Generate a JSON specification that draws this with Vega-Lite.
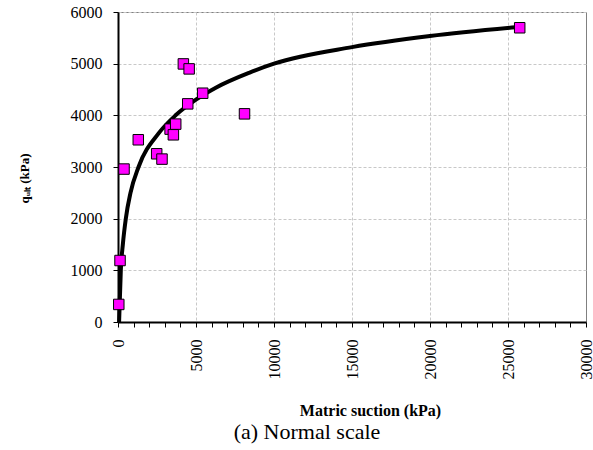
{
  "$schema": "https://vega.github.io/schema/vega-lite/v6.json",
  "width": 468,
  "height": 310,
  "autosize": {"type": "none"},
  "padding": {"left": 118, "top": 12, "right": 7, "bottom": 128},
  "background": "white",
  "config": {
    "view": {"stroke": "#808080", "strokeWidth": 1},
    "font": "Liberation Serif"
  },
  "title": {
    "text": "(a) Normal scale",
    "orient": "bottom",
    "anchor": "middle",
    "dx": -45,
    "offset": 4,
    "font": "Liberation Serif",
    "fontSize": 22,
    "fontWeight": "normal",
    "color": "black"
  },
  "datasets": {
    "curve": [
      {"suction": 70, "qult": 0},
      {"suction": 180, "qult": 1000},
      {"suction": 310, "qult": 1500},
      {"suction": 500, "qult": 2000},
      {"suction": 800, "qult": 2500},
      {"suction": 1316, "qult": 3000},
      {"suction": 2600, "qult": 3650},
      {"suction": 3690, "qult": 4000},
      {"suction": 5020, "qult": 4308},
      {"suction": 6300, "qult": 4540},
      {"suction": 8440, "qult": 4828},
      {"suction": 10000, "qult": 5000},
      {"suction": 15000, "qult": 5320},
      {"suction": 20000, "qult": 5535},
      {"suction": 25500, "qult": 5705}
    ],
    "points": [
      {"suction": 50, "qult": 340},
      {"suction": 130, "qult": 1190},
      {"suction": 385, "qult": 2960},
      {"suction": 1300, "qult": 3527},
      {"suction": 2480, "qult": 3256},
      {"suction": 2820, "qult": 3153},
      {"suction": 3340, "qult": 3733},
      {"suction": 3700, "qult": 3830},
      {"suction": 3550, "qult": 3623},
      {"suction": 4190, "qult": 4995},
      {"suction": 4560, "qult": 4899},
      {"suction": 4470, "qult": 4222},
      {"suction": 5430, "qult": 4428},
      {"suction": 8110, "qult": 4029},
      {"suction": 25750, "qult": 5695}
    ]
  },
  "layer": [
    {
      "data": {"name": "curve"},
      "mark": {"type": "line", "color": "black", "strokeWidth": 4, "interpolate": "monotone"},
      "encoding": {
        "x": {
          "field": "suction",
          "type": "quantitative",
          "scale": {"domain": [0, 30000], "nice": false, "zero": true},
          "axis": {
            "values": [0, 1000, 2000, 3000, 4000, 5000, 6000, 7000, 8000, 9000, 10000, 11000, 12000, 13000, 14000, 15000, 16000, 17000, 18000, 19000, 20000, 21000, 22000, 23000, 24000, 25000, 26000, 27000, 28000, 29000, 30000],
            "tickCount": 40,
            "labelExpr": "datum.value % 5000 === 0 ? datum.label : ''",
            "format": "d",
            "labelAngle": 270,
            "labelAlign": "right",
            "labelBaseline": "middle",
            "labelFont": "Liberation Serif",
            "labelFontSize": 16,
            "labelColor": "black",
            "labelPadding": 12,
            "labelOverlap": false,
            "labelFlush": false,
            "tickSize": 5,
            "tickColor": "black",
            "tickWidth": 1,
            "domainColor": "black",
            "domainWidth": 2,
            "grid": true,
            "gridColor": "#c8c8c8",
            "gridDash": [3, 2],
            "gridOpacity": {"condition": {"test": "datum.value % 5000 === 0 && datum.value > 0 && datum.value < 30000", "value": 1}, "value": 0},
            "title": "Matric suction (kPa)",
            "titleFont": "Liberation Serif",
            "titleFontSize": 16,
            "titleFontWeight": "bold",
            "titleColor": "black",
            "titleX": 252,
            "titleY": 88,
            "titleAlign": "center",
            "titleBaseline": "middle"
          }
        },
        "y": {
          "field": "qult",
          "type": "quantitative",
          "scale": {"domain": [0, 6000], "nice": false},
          "axis": {
            "values": [0, 1000, 2000, 3000, 4000, 5000, 6000],
            "tickCount": 10,
            "format": "d",
            "labelFont": "Liberation Serif",
            "labelFontSize": 16,
            "labelColor": "black",
            "labelPadding": 11,
            "tickSize": 5,
            "tickColor": "black",
            "domainColor": "black",
            "domainWidth": 2,
            "grid": true,
            "gridColor": "#c8c8c8",
            "gridDash": [3, 2],
            "title": "qᵤₗₜ (kPa)",
            "titleFont": "Liberation Serif",
            "titleFontSize": 13,
            "titleFontWeight": "bold",
            "titleColor": "black",
            "titleX": -94,
            "titleY": 166,
            "titleAngle": 270,
            "titleAlign": "center",
            "titleBaseline": "middle"
          }
        }
      }
    },
    {
      "data": {"name": "points"},
      "mark": {"type": "point", "shape": "square", "filled": true, "fill": "#FF00FF", "stroke": "black", "strokeWidth": 1, "size": 110, "opacity": 1},
      "encoding": {
        "x": {"field": "suction", "type": "quantitative"},
        "y": {"field": "qult", "type": "quantitative"}
      }
    }
  ]
}
